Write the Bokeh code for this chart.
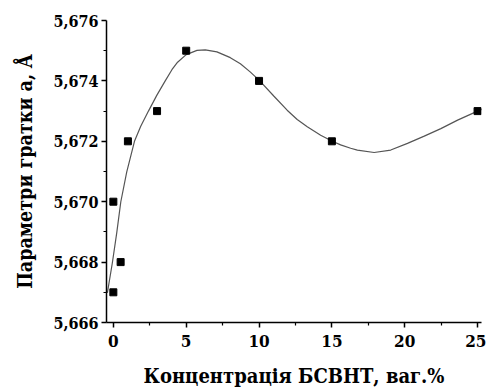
from bokeh.plotting import figure
from bokeh.embed import file_html
from bokeh.resources import INLINE
from bokeh.models import FixedTicker, CustomJSTickFormatter

# measured points
conc = [0, 0, 0.5, 1, 3, 5, 10, 15, 25]
lattice = [5.667, 5.670, 5.668, 5.672, 5.673, 5.675, 5.674, 5.672, 5.673]

# smooth fitted curve
curve_x = [-0.41, -0.07, 0.23, 0.51, 0.92, 1.45, 1.88, 2.41, 2.98, 3.56, 4.02, 4.41,
           5.0, 5.74, 6.31, 7.11, 8.03, 8.72, 9.41, 10.05, 11.01, 11.93, 12.62,
           13.31, 14.23, 15.03, 15.6, 16.29, 16.75, 17.9, 19.04, 20.19, 21.34,
           22.48, 23.63, 25.0, 25.45]
curve_y = [5.66698, 5.66797, 5.66896, 5.66999, 5.67099, 5.67200, 5.67250, 5.67300,
           5.67352, 5.67400, 5.67437, 5.67462, 5.67487, 5.67501, 5.67503, 5.67496,
           5.67477, 5.67457, 5.67429, 5.67400, 5.67350, 5.67303, 5.67272, 5.67248,
           5.67220, 5.67200, 5.67188, 5.67177, 5.67171, 5.67163, 5.67171, 5.67193,
           5.67217, 5.67242, 5.67270, 5.67300, 5.67309]

x_ticks = [0, 5, 10, 15, 20, 25]
x_minor = [2.5, 7.5, 12.5, 17.5, 22.5]
y_ticks = [5.666, 5.668, 5.670, 5.672, 5.674, 5.676]
y_minor = [5.667, 5.669, 5.671, 5.673, 5.675]

FONT = "DejaVu Serif Condensed"

p = figure(width=486, height=390, x_range=(-0.47, 25.27), y_range=(5.666, 5.676),
           output_backend="svg", toolbar_location=None,
           min_border_left=106, min_border_right=5, min_border_top=20, min_border_bottom=67)
p.outline_line_color = None
p.xgrid.visible = False
p.ygrid.visible = False
p.background_fill_color = "white"
p.border_fill_color = "white"

p.line(curve_x, curve_y, line_color="#555555", line_width=1.2)
p.scatter(conc, lattice, marker="square", size=7, color="black")

for ax in (p.xaxis[0], p.yaxis[0]):
    ax.axis_line_width = 1.5
    ax.axis_line_color = "black"
    ax.major_tick_line_width = 1.5
    ax.minor_tick_line_width = 1.2
    ax.major_tick_out = 5
    ax.major_tick_in = 0
    ax.minor_tick_out = 3
    ax.minor_tick_in = 0
    ax.major_label_text_font = FONT
    ax.major_label_text_font_style = "bold"
    ax.major_label_text_color = "black"
    ax.axis_label_text_font = FONT
    ax.axis_label_text_font_style = "bold"
    ax.axis_label_text_color = "black"

p.xaxis[0].major_label_text_font_size = "17px"
p.yaxis[0].major_label_text_font_size = "16px"
p.xaxis[0].axis_label_text_font_size = "20px"
p.yaxis[0].axis_label_text_font_size = "19.5px"

p.xaxis[0].ticker = FixedTicker(ticks=x_ticks, minor_ticks=x_minor)
p.yaxis[0].ticker = FixedTicker(ticks=y_ticks, minor_ticks=y_minor)
p.yaxis[0].formatter = CustomJSTickFormatter(code="return tick.toFixed(3).replace('.', ',');")
p.xaxis[0].major_label_standoff = 7
p.yaxis[0].major_label_standoff = 3
p.xaxis[0].axis_label = "Концентрація БСВНТ, ваг.%"
p.yaxis[0].axis_label = "Параметри гратки a, Å"
p.xaxis[0].axis_label_standoff = 14
p.yaxis[0].axis_label_standoff = 13

open("out.html", "w").write(file_html(p, INLINE))
